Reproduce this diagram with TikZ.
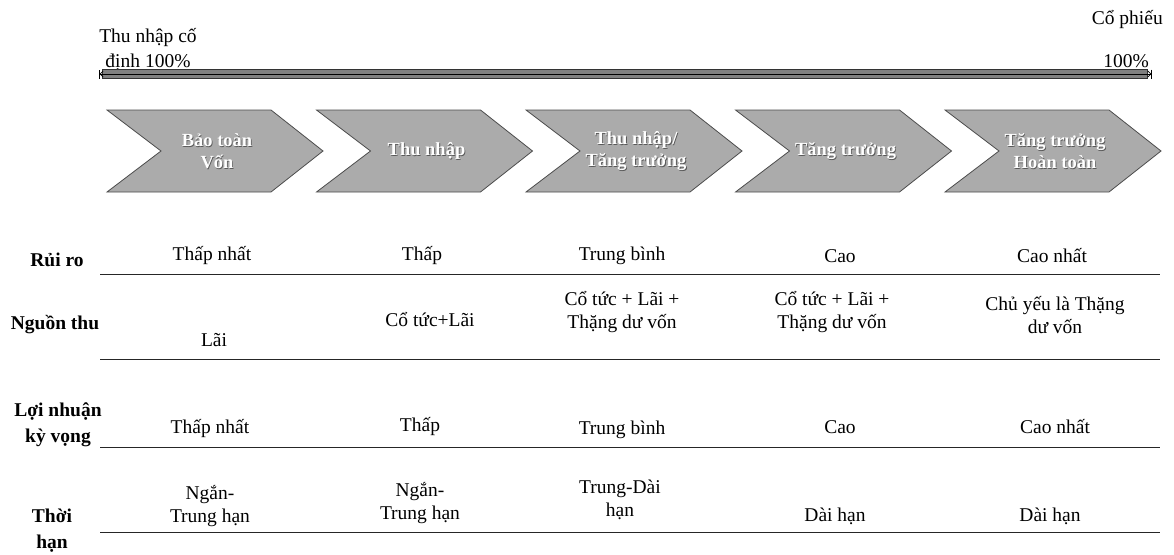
\documentclass[tikz,border=0pt]{standalone}
\usepackage{fontspec}
\setmainfont{Liberation Serif}
\usetikzlibrary{arrows.meta}
\begin{document}
\begin{tikzpicture}[x=1pt,y=-1pt,
  cell/.style={font=\fontsize{19.5}{22.5}\selectfont, align=center, inner sep=0pt},
  lab/.style={font=\bfseries\fontsize{19.5}{26}\selectfont, align=center, inner sep=0pt},
  toptxt/.style={font=\fontsize{19.5}{25}\selectfont, align=center, inner sep=0pt},
  chev/.style={fill=black!33, draw=black!70, line width=0.8pt},
  chevtxt/.style={font=\bfseries\fontsize{18.5}{22}\selectfont, align=center, text=white, inner sep=0pt},
  chevsh/.style={chevtxt, text=black!65},
  rowrule/.style={line width=0.9pt, draw=black!85}]
\useasboundingbox (0,0) rectangle (1174,554);

% top scale bar
\node[toptxt] (lefttxt) at (148,50) {Thu nhập cố\\định 100\%};
\node[toptxt, anchor=east] (righttop) at (1163,20) {Cổ phiếu};
\node[toptxt, anchor=east] (rightbot) at (1149,61) {100\%};
\fill[black!50, draw=black!80, line width=0.8pt] (102,69) rectangle (1147,78);
\coordinate (barL) at (99,74);
\coordinate (barR) at (1152,74);
\draw[line width=0.7pt, {Bar[width=9pt]Straight Barb[length=3pt,width=6pt]}-{Straight Barb[length=3pt,width=6pt]Bar[width=9pt]}] (barL) -- (barR);

% chevrons
\foreach \i/\t in {0/{Bảo toàn\\Vốn},1/{Thu nhập},2/{Thu nhập/\\Tăng trưởng},3/{Tăng trưởng},4/{Tăng trưởng\\Hoàn toàn}}{
  \pgfmathsetmacro{\xo}{107+209.5*\i}
  \draw[chev] (\xo,110) -- ++(164,0) -- ++(52,41) -- ++(-52,41) -- ++(-164,0) -- ++(54,-41) -- cycle;
  \node[chevsh] (chs\i) at (\xo+110.8,151.8) {\t};
  \node[chevtxt] (ch\i) at (\xo+110,151) {\t};
}

% row labels
\node[lab] (lr) at (57,260) {Rủi ro};
\node[lab] (ln) at (55,325) {Nguồn thu};
\node[lab] (ll) at (58,425) {Lợi nhuận\\kỳ vọng};
\node[lab] (lt) at (52,531) {Thời\\hạn};

% row 1
\node[cell] (r1c1) at (212,256) {Thấp nhất};
\node[cell] (r1c2) at (422,256) {Thấp};
\node[cell] (r1c3) at (622,256) {Trung bình};
\node[cell] (r1c4) at (840,256) {Cao};
\node[cell] (r1c5) at (1052,256) {Cao nhất};
\coordinate (l1a) at (100,274); \coordinate (l1b) at (1160,274);
\draw[rowrule] (l1a) -- (l1b);

% row 2
\node[cell] (r2c1) at (214,340) {Lãi};
\node[cell] (r2c2) at (430,320) {Cổ tức+Lãi};
\node[cell] (r2c3) at (622,312) {Cổ tức + Lãi +\\Thặng dư vốn};
\node[cell] (r2c4) at (832,312) {Cổ tức + Lãi +\\Thặng dư vốn};
\node[cell] (r2c5) at (1055,315) {Chủ yếu là Thặng\\dư vốn};
\coordinate (l2a) at (100,359); \coordinate (l2b) at (1160,359);
\draw[rowrule] (l2a) -- (l2b);

% row 3
\node[cell] (r3c1) at (210,429) {Thấp nhất};
\node[cell] (r3c2) at (420,427) {Thấp};
\node[cell] (r3c3) at (622,430) {Trung bình};
\node[cell] (r3c4) at (840,427) {Cao};
\node[cell] (r3c5) at (1055,427) {Cao nhất};
\coordinate (l3a) at (100,447); \coordinate (l3b) at (1160,447);
\draw[rowrule] (l3a) -- (l3b);

% row 4
\node[cell] (r4c1) at (210,506) {Ngắn-\\Trung hạn};
\node[cell] (r4c2) at (420,503) {Ngắn-\\Trung hạn};
\node[cell] (r4c3) at (620,500) {Trung-Dài\\hạn};
\node[cell] (r4c4) at (835,516) {Dài hạn};
\node[cell] (r4c5) at (1050,516) {Dài hạn};
\coordinate (l4a) at (100,532); \coordinate (l4b) at (1160,532);
\draw[rowrule] (l4a) -- (l4b);
\end{tikzpicture}
\end{document}
